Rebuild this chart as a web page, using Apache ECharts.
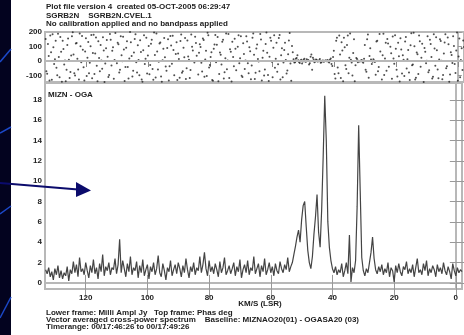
<!DOCTYPE html>
<html>
<head>
<meta charset="utf-8">
<script src="https://cdn.jsdelivr.net/npm/echarts@6/dist/echarts.min.js"></script>
<style>
  html, body { margin: 0; padding: 0; background: #fff; }
  #main { width: 464px; height: 335px; }
</style>
</head>
<body>
<div id="main"></div>
<script type="text/javascript">
// channels: velocity of first channel and step (km/s)
var velStart = 133;
var velStep = 0.5;

// lower frame, amplitude (milli Jy), one value per channel
var amp = [
  1.3, 0.9, 1.5, 0.6, 1.1, 0.3, 1.4, 0.8, 1.7, 0.5,
  1.2, 0.4, 1.0, 0.7, 1.6, 0.2, 1.3, 0.9, 2.1, 1.0,
  1.8, 0.6, 2.5, 1.1, 1.4, 0.8, 2.0, 1.2, 0.5, 1.7,
  1.0, 2.3, 0.9, 1.5, 0.4, 1.9, 1.1, 2.8, 0.7, 1.6,
  1.2, 2.0, 0.8, 1.5, 1.3, 2.4, 0.9, 1.8, 4.3, 1.0,
  2.2, 1.4, 0.6, 1.9, 1.1, 2.6, 0.8, 1.5, 1.2, 2.1,
  0.5, 1.7, 1.0, 2.3, 0.7, 1.3, 1.8, 0.4, 1.6, 1.1,
  2.0, 0.8, 1.4, 2.7, 1.0, 0.6, 1.9, 1.2, 0.3, 1.5,
  1.1, 2.2, 0.7, 1.3, 1.8, 0.9, 2.0, 1.4, 0.6, 1.7,
  1.0, 2.4, 1.3, 0.5, 1.6, 1.1, 2.0, 0.8, 1.5, 1.2,
  2.6, 1.0, 1.8, 3.0, 1.4, 0.7, 2.2, 1.1, 1.6, 0.9,
  1.9, 1.3, 0.6, 2.1, 1.0, 1.5, 2.5, 0.8, 1.2, 1.7,
  0.9, 1.4, 2.0, 0.7, 1.6, 1.1, 2.3, 0.5, 1.3, 1.8,
  1.0, 2.2, 0.8, 1.5, 1.2, 2.6, 0.9, 1.4, 1.9, 0.6,
  1.7, 1.1, 2.4, 0.8, 1.3, 2.0, 1.0, 1.6, 0.7, 1.9,
  1.2, 0.9, 2.1, 1.4, 1.0, 1.8, 1.3, 2.5, 1.1, 1.6,
  2.0, 2.8, 3.6, 4.5, 5.2, 4.0, 6.2, 7.6, 8.0, 5.5,
  3.2, 2.0, 1.4, 2.6, 4.8, 6.5, 8.7, 5.0, 3.5, 7.2,
  12.5, 18.4, 14.0, 6.0, 3.5, 2.2, 1.4, 1.0, 1.6, 0.8,
  1.3, 1.0, 1.9, 0.6, 1.2, 2.0, 0.9, 4.7, 0.1, 1.5,
  1.0, 2.2, 7.5, 15.5, 9.0, 2.5, 1.2, 0.7, 1.4, 1.0,
  2.0, 3.0, 4.5, 2.4, 1.3, 0.9, 1.6, 1.1, 1.8, 0.8,
  1.4, 1.0, 2.0, 0.6, 1.5, 1.2, 0.1, 1.7, 1.0, 1.9,
  1.1, 0.7, 1.6, 1.3, 2.1, 0.9, 1.4, 1.0, 1.8, 0.6,
  1.5, 2.4, 1.0, 1.3, 0.8, 1.9, 1.2, 2.2, 0.7, 1.4,
  1.0, 1.7, 1.3, 0.6, 1.8, 1.1, 1.5, 0.9, 2.0, 1.2,
  0.8, 1.6, 1.1, 0.4, 1.9, 1.2, 0.7, 1.5, 1.0, 1.3,
  1.1
];

// top frame, phase (deg), one value per channel
var phase = [
  152, -88, 34, 176, -130, 95, 12, -47, 188, -112,
  63, 140, -25, -140, 110, 8, -76, 171, 45, -101,
  124, -58, 190, -9, 78, -135, 157, 22, -84, 102,
  -119, 181, 51, -33, 136, -70, 3, 164, -145, 88,
  29, -96, 147, 70, -123, 193, -15, 115, -61, 40,
  168, -138, 92, -42, 17, 130, -107, 58, 185, -79,
  6, 143, -128, 74, -20, 160, 37, -92, 119, -55,
  196, -114, 66, -6, 128, -143, 84, 25, -68, 150,
  -37, 107, 174, -99, 49, -131, 13, 138, -82, 91,
  159, -50, 31, -117, 183, 72, -11, 124, -146, 56,
  97, -73, 144, 10, -104, 178, -28, 61, -136, 113,
  -8, 166, -89, 43, 132, -121, 19, -57, 187, 81,
  -141, 27, 154, -64, 99, -15, 171, -110, 48, 4,
  135, -84, 67, -31, 190, -125, 86, 14, -70, 149,
  23, -100, 118, 57, -138, 161, -5, 92, -46, 126,
  -22, 180, 39, -113, 75, 7, -66, 142, -18, 103,
  12, -8, 20, 5, -14, 9, -3, 15, -6, 2,
  -25, 30, -60, 11, -4, 7, -2, 13, -9, 4,
  -1, 3, 6, -10, 18, -35, 70, -120, 160, -85,
  45, 130, -140, 95, -55, 176, 22, 8, -100, 150,
  -30, 14, 2, -1, 6, -12, 110, -75, 182, 35,
  10, -5, 3, -95, 140, -42, 66, -128, 188, 17,
  -67, 121, -148, 54, 169, -19, 85, -107, 32, 157,
  -86, 9, 134, -52, 76, -132, 192, -24, 101, -115,
  47, 175, -39, 119, -145, 64, 1, -78, 146, 28,
  -108, 87, 163, -59, 11, 138, -126, 52, 184, -36,
  116, -94, 41, 170, -21, 73, -137, 155, 6, -62,
  96
];

// second set of phase points, plotted between the channels above
var phase2 = [
  -70, 118, -135, 60, 185, -20, 140, -98, 27, 166,
  -143, 83, 4, -60, 155, -117, 38, 199, -85, 120,
  15, -127, 102, 172, -44, 66, -104, 131, -12, 180,
  55, -90, 162, -139, 21, 111, -53, 73, -18, 145,
  -111, 186, -32, 95, 7, -148, 125, -79, 170, -2,
  80, -41, 137, -121, 200, 34, -67, 152, -8, 109,
  -99, 62, -144, 177, 16, -86, 104, -27, 147, -129,
  41, 189, -58, 120, -107, 5, 158, -38, 90, -134,
  173, -19, 76, -147, 129, 52, -115, 182, -71, 26,
  -124, 141, 9, -62, 98, -150, 167, 36, -93, 116,
  -13, 156, -108, 71, 194, -45, 28, -132, 85, 179,
  112, -139, 58, -24, 146, -77, 190, 3, -118, 64,
  133, -36, 84, -149, 178, 19, -102, 122, -55, 170,
  -16, 94, -126, 161, 43, -81, 114, -3, 187, -134,
  71, -59, 197, -97, 30, 139, -113, 178, 15, -74,
  158, -128, 88, -10, 125, -87, 46, 193, -137, 60,
  -10, 16, 40, -7, 3, -18, 8, -4, 12, 6,
  -15, 45, 22, -8, 10, -3, 5, -12, 2, -6,
  4, -2, -5, 9, -20, 28, -90, 140, -45, 175,
  -118, 72, 160, -30, 110, -84, 190, -10, 55, -140,
  20, -8, -3, 4, -6, 15, -60, 150, -115, 88,
  -20, 12, -7, 135, -70, 186, -150, 40, -96, 125,
  152, -40, 99, -122, 18, 177, -61, 126, -141, 80,
  39, -104, 165, 12, -80, 108, -29, 194, -127, 58,
  -90, 136, 23, -146, 90, -15, 170, -64, 117, -120,
  184, -33, 74, -119, 150, 2, -96, 127, -50, 162,
  -144, 60, -14, 103, -83, 196, 31, -112, 88, 141,
  -48
];

var velTicks = [0, 20, 40, 60, 80, 100, 120];
var ampTicks = [0, 2, 4, 6, 8, 10, 12, 14, 16, 18];
var phaseTicks = [-100, 0, 100, 200];

var headerLines = [
  'Plot file version 4  created 05-OCT-2005 06:29:47',
  'SGRB2N    SGRB2N.CVEL.1',
  'No calibration applied and no bandpass applied'
];
var footerLines = [
  'Lower frame: Milli Ampl Jy   Top frame: Phas deg',
  'Vector averaged cross-power spectrum    Baseline: MIZNAO20(01) - OGASA20 (03)',
  'Timerange: 00/17:46:26 to 00/17:49:26'
];

var ampData = [], phaseData = [];
for (var i = 0; i < amp.length; i++) {
  var v = velStart - i * velStep;
  ampData.push([v, amp[i]]);
  phaseData.push([v, phase[i]]);
  phaseData.push([v - velStep / 2, phase2[i]]);
}

var FONT = 'Liberation Sans';
var AX = '#b8b8b8';
var lbl = { fontFamily: FONT, fontWeight: 'bold', fontSize: 8, color: '#222' };

var graphics = [
  // dark slide strip on the left
  { type: 'rect', shape: { x: 0, y: 0, width: 11, height: 335 }, style: { fill: '#03031f' }, z: 50 },
  { type: 'line', shape: { x1: 0, y1: 62, x2: 11, y2: 49 }, style: { stroke: '#1c48c8', lineWidth: 1.5 }, z: 51 },
  { type: 'line', shape: { x1: 0, y1: 133, x2: 11, y2: 127 }, style: { stroke: '#1c48c8', lineWidth: 1.5 }, z: 51 },
  { type: 'line', shape: { x1: 0, y1: 214, x2: 11, y2: 206 }, style: { stroke: '#1c48c8', lineWidth: 1.5 }, z: 51 },
  { type: 'line', shape: { x1: 0, y1: 318, x2: 11, y2: 297 }, style: { stroke: '#1c48c8', lineWidth: 1.5 }, z: 51 },
  // arrow
  { type: 'line', shape: { x1: 0, y1: 183, x2: 78, y2: 189.5 }, style: { stroke: '#0b0b6c', lineWidth: 2 }, z: 60 },
  { type: 'polygon', shape: { points: [[76, 182], [91, 190.5], [76, 197]] }, style: { fill: '#0b0b6c' }, z: 60 },
  { type: 'text', x: 48, y: 91, style: { text: 'MIZN - OGA', font: 'bold 8px ' + FONT, fill: '#222' }, z: 40 },
  { type: 'text', x: 260, y: 300, style: { text: 'KM/S (LSR)', font: 'bold 8px ' + FONT, fill: '#222', align: 'center' }, z: 40 }
];
headerLines.forEach(function (t, k) {
  graphics.push({ type: 'text', x: 46, y: 3 + k * 8.5, style: { text: t, font: 'bold 8px ' + FONT, fill: '#222' }, z: 40 });
});
footerLines.forEach(function (t, k) {
  graphics.push({ type: 'text', x: 46, y: 309 + k * 7, style: { text: t, font: 'bold 8px ' + FONT, fill: '#222' }, z: 40 });
});

var chart = echarts.init(document.getElementById('main'));
var option = {
  backgroundColor: '#fff',
  animation: false,
  graphic: graphics,
  grid: [
    { left: 45, right: 0, top: 32, height: 50, show: true, borderColor: AX, borderWidth: 2 },
    { left: 45, right: 2, top: 83, height: 206, show: true, borderColor: AX, borderWidth: 2 }
  ],
  xAxis: [
    {
      gridIndex: 0, type: 'value', inverse: true, min: -2, max: 133.2, position: 'top',
      axisLine: { lineStyle: { color: AX, width: 2 } },
      axisTick: { inside: true, length: 6, customValues: velTicks, lineStyle: { color: '#888' } },
      axisLabel: { show: false }, splitLine: { show: false }
    },
    {
      gridIndex: 1, type: 'value', inverse: true, min: -2, max: 133.2, position: 'bottom',
      axisLine: { lineStyle: { color: AX, width: 2 } },
      axisTick: { inside: true, length: 8, customValues: velTicks, lineStyle: { color: '#999' } },
      axisLabel: Object.assign({ customValues: velTicks, margin: 5 }, lbl),
      splitLine: { show: false }
    },
    {
      gridIndex: 1, type: 'value', inverse: true, min: -2, max: 133.2, position: 'top',
      axisLine: { show: false },
      axisTick: { inside: true, length: 14, customValues: velTicks, lineStyle: { color: '#999' } },
      axisLabel: { show: false }, splitLine: { show: false }
    }
  ],
  yAxis: [
    {
      gridIndex: 0, type: 'value', min: -145, max: 200,
      axisLine: { show: true, lineStyle: { color: AX, width: 2 } },
      axisTick: { inside: true, length: 4, customValues: phaseTicks, lineStyle: { color: '#999' } },
      axisLabel: Object.assign({ customValues: phaseTicks, margin: 3 }, lbl),
      splitLine: { show: false }
    },
    {
      gridIndex: 1, type: 'value', min: -0.6, max: 19.66,
      axisLine: { show: true, lineStyle: { color: AX, width: 2 } },
      axisTick: { inside: true, length: 9, customValues: ampTicks, lineStyle: { color: '#999' } },
      axisLabel: Object.assign({ customValues: ampTicks, margin: 3 }, lbl),
      splitLine: { show: false }
    },
    {
      gridIndex: 1, type: 'value', min: -0.6, max: 19.66, position: 'right',
      axisLine: { show: true, lineStyle: { color: AX, width: 2 } },
      axisTick: { inside: true, length: 6, customValues: ampTicks, lineStyle: { color: '#999' } },
      axisLabel: { show: false }, splitLine: { show: false }
    }
  ],
  series: [
    {
      type: 'scatter', xAxisIndex: 0, yAxisIndex: 0, data: phaseData,
      symbolSize: 2, itemStyle: { color: '#222' },
      markLine: {
        silent: true, symbol: 'none', label: { show: false },
        lineStyle: { color: AX, width: 2, type: 'solid' },
        data: [{ yAxis: 0 }]
      }
    },
    {
      type: 'line', xAxisIndex: 1, yAxisIndex: 1, data: ampData,
      showSymbol: false, lineStyle: { color: '#444', width: 1.2 }
    }
  ]
};
chart.setOption(option);
</script>
</body>
</html>
